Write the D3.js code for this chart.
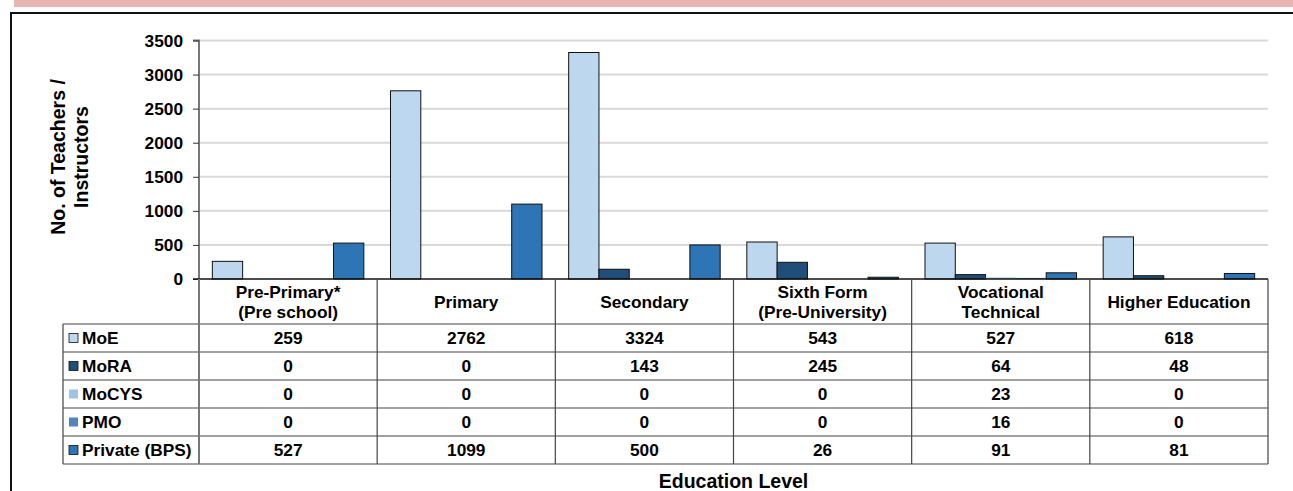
<!DOCTYPE html>
<html><head><meta charset="utf-8">
<script src="https://cdn.jsdelivr.net/npm/d3@7"></script>
<style>body{margin:0;background:#fff}svg{display:block;font-family:"Liberation Sans",Arial,sans-serif;font-weight:bold}</style>
</head><body>
<svg id="c" width="1293" height="491"></svg>
<script>
const categories = [["Pre-Primary*","(Pre school)"],["Primary"],["Secondary"],["Sixth Form","(Pre-University)"],["Vocational","Technical"],["Higher Education"]];
const seriesNames = ["MoE","MoRA","MoCYS","PMO","Private (BPS)"];
const seriesColors = ["#bdd7ee","#1f4e79","#9dc3e6","#4f86c0","#2e75b6"];
const seriesStroke = [true,true,false,false,true];
const MoE = [259,2762,3324,543,527,618];
const MoRA = [0,0,143,245,64,48];
const MoCYS = [0,0,0,0,23,0];
const PMO = [0,0,0,0,16,0];
const Private = [527,1099,500,26,91,81];
const seriesValues = [MoE,MoRA,MoCYS,PMO,Private];
const yTicks = [0,500,1000,1500,2000,2500,3000,3500];

const FS = 17.3;
const svg = d3.select("#c");
// top pink band and frame
svg.append("rect").attr("x",14).attr("y",0).attr("width",1279).attr("height",7).attr("fill","#e8b5b2");
svg.append("path").attr("d","M11,500 V13 H1300").attr("fill","none").attr("stroke","#111").attr("stroke-width",2);

const pLeft=199, pRight=1268, pTop=40.5, zeroY=279;
const x = d3.scaleBand().domain(d3.range(categories.length)).range([pLeft,pRight]);
const y = d3.scaleLinear().domain([0,3500]).range([zeroY,pTop]);
const xs = d3.scaleBand().domain(d3.range(seriesNames.length)).range([0,x.bandwidth()]).paddingOuter(0.44);

// gridlines
svg.append("g").selectAll("line").data(yTicks.slice(1)).join("line")
  .attr("x1",pLeft).attr("x2",pRight).attr("y1",d=>y(d)).attr("y2",d=>y(d))
  .attr("stroke","#d9d9d9").attr("stroke-width",2);

// y axis
const yAxis = svg.append("g").attr("transform",`translate(${pLeft},0)`)
  .call(d3.axisLeft(y).tickValues(yTicks).tickFormat(d3.format("d")).tickSize(6).tickPadding(10));
yAxis.select(".domain").attr("stroke","#777").attr("stroke-width",2).attr("d",`M-6,${pTop}H0V${zeroY}`);
yAxis.selectAll(".tick line").attr("stroke","#333");
yAxis.selectAll("text").attr("font-size",FS).attr("font-weight","bold").attr("font-family","Liberation Sans, Arial, sans-serif").attr("fill","#000");

// bars
seriesValues.forEach((vals,si)=>{
  svg.append("g").selectAll("rect").data(vals).join("rect")
    .attr("x",(d,i)=>x(i)+xs(si)).attr("width",xs.bandwidth())
    .attr("y",d=>y(d)).attr("height",d=>zeroY-y(d))
    .attr("fill",seriesColors[si])
    .attr("stroke",seriesStroke[si]?"#111":"none").attr("stroke-width",1)
    .attr("display",d=>d>0?null:"none");
});

// table
const rowH=28, headTop=zeroY, headBot=324, legLeft=63;
const tg = svg.append("g").attr("stroke","#444").attr("stroke-width",1.2).attr("fill","none");
const tableBot = headBot + rowH*seriesNames.length;
tg.append("line").attr("x1",193).attr("x2",pRight).attr("y1",zeroY).attr("y2",zeroY).attr("stroke","#111").attr("stroke-width",1.5);
d3.range(seriesNames.length+1).forEach(r=>{
  tg.append("line").attr("x1",legLeft).attr("x2",pRight).attr("y1",headBot+r*rowH).attr("y2",headBot+r*rowH);
});
tg.append("line").attr("x1",legLeft).attr("x2",legLeft).attr("y1",headBot).attr("y2",tableBot);
d3.range(categories.length+1).forEach(c=>{
  const xx = c<categories.length? x(c) : pRight;
  tg.append("line").attr("x1",xx).attr("x2",xx).attr("y1",zeroY).attr("y2",tableBot)
    .attr("stroke",c===0?"#777":"#444").attr("stroke-width",c===0?2:1.2);
});

// headers
categories.forEach((lines,i)=>{
  const cx = x(i)+x.bandwidth()/2;
  const cy = (headTop+headBot)/2;
  const t = svg.append("text").attr("x",cx).attr("text-anchor","middle").attr("font-size",FS);
  lines.forEach((ln,k)=>{
    t.append("tspan").attr("x",cx).attr("y",cy + (k-(lines.length-1)/2)*20 + 6).text(ln);
  });
});
// rows
seriesNames.forEach((name,si)=>{
  const ry = headBot+si*rowH;
  svg.append("rect").attr("x",69).attr("y",ry+rowH/2-4.5).attr("width",9).attr("height",9)
    .attr("fill",seriesColors[si]).attr("stroke",seriesStroke[si]?"#111":"none").attr("stroke-width",0.8);
  svg.append("text").attr("x",82).attr("y",ry+rowH/2+6).attr("font-size",FS).text(name);
  svg.append("g").selectAll("text").data(seriesValues[si]).join("text")
    .attr("x",(d,i)=>x(i)+x.bandwidth()/2).attr("y",ry+rowH/2+6)
    .attr("text-anchor","middle").attr("font-size",FS).text(d=>d);
});

// axis titles
svg.append("text").attr("x",(pLeft+pRight)/2).attr("y",488).attr("text-anchor","middle").attr("font-size",19.5).text("Education Level");
const yt = svg.append("text").attr("transform","translate(69,157) rotate(-90)").attr("text-anchor","middle").attr("font-size",19.5);
yt.append("tspan").attr("x",0).attr("y",-4).text("No. of Teachers /");
yt.append("tspan").attr("x",0).attr("y",19).text("Instructors");
</script>
</body></html>
